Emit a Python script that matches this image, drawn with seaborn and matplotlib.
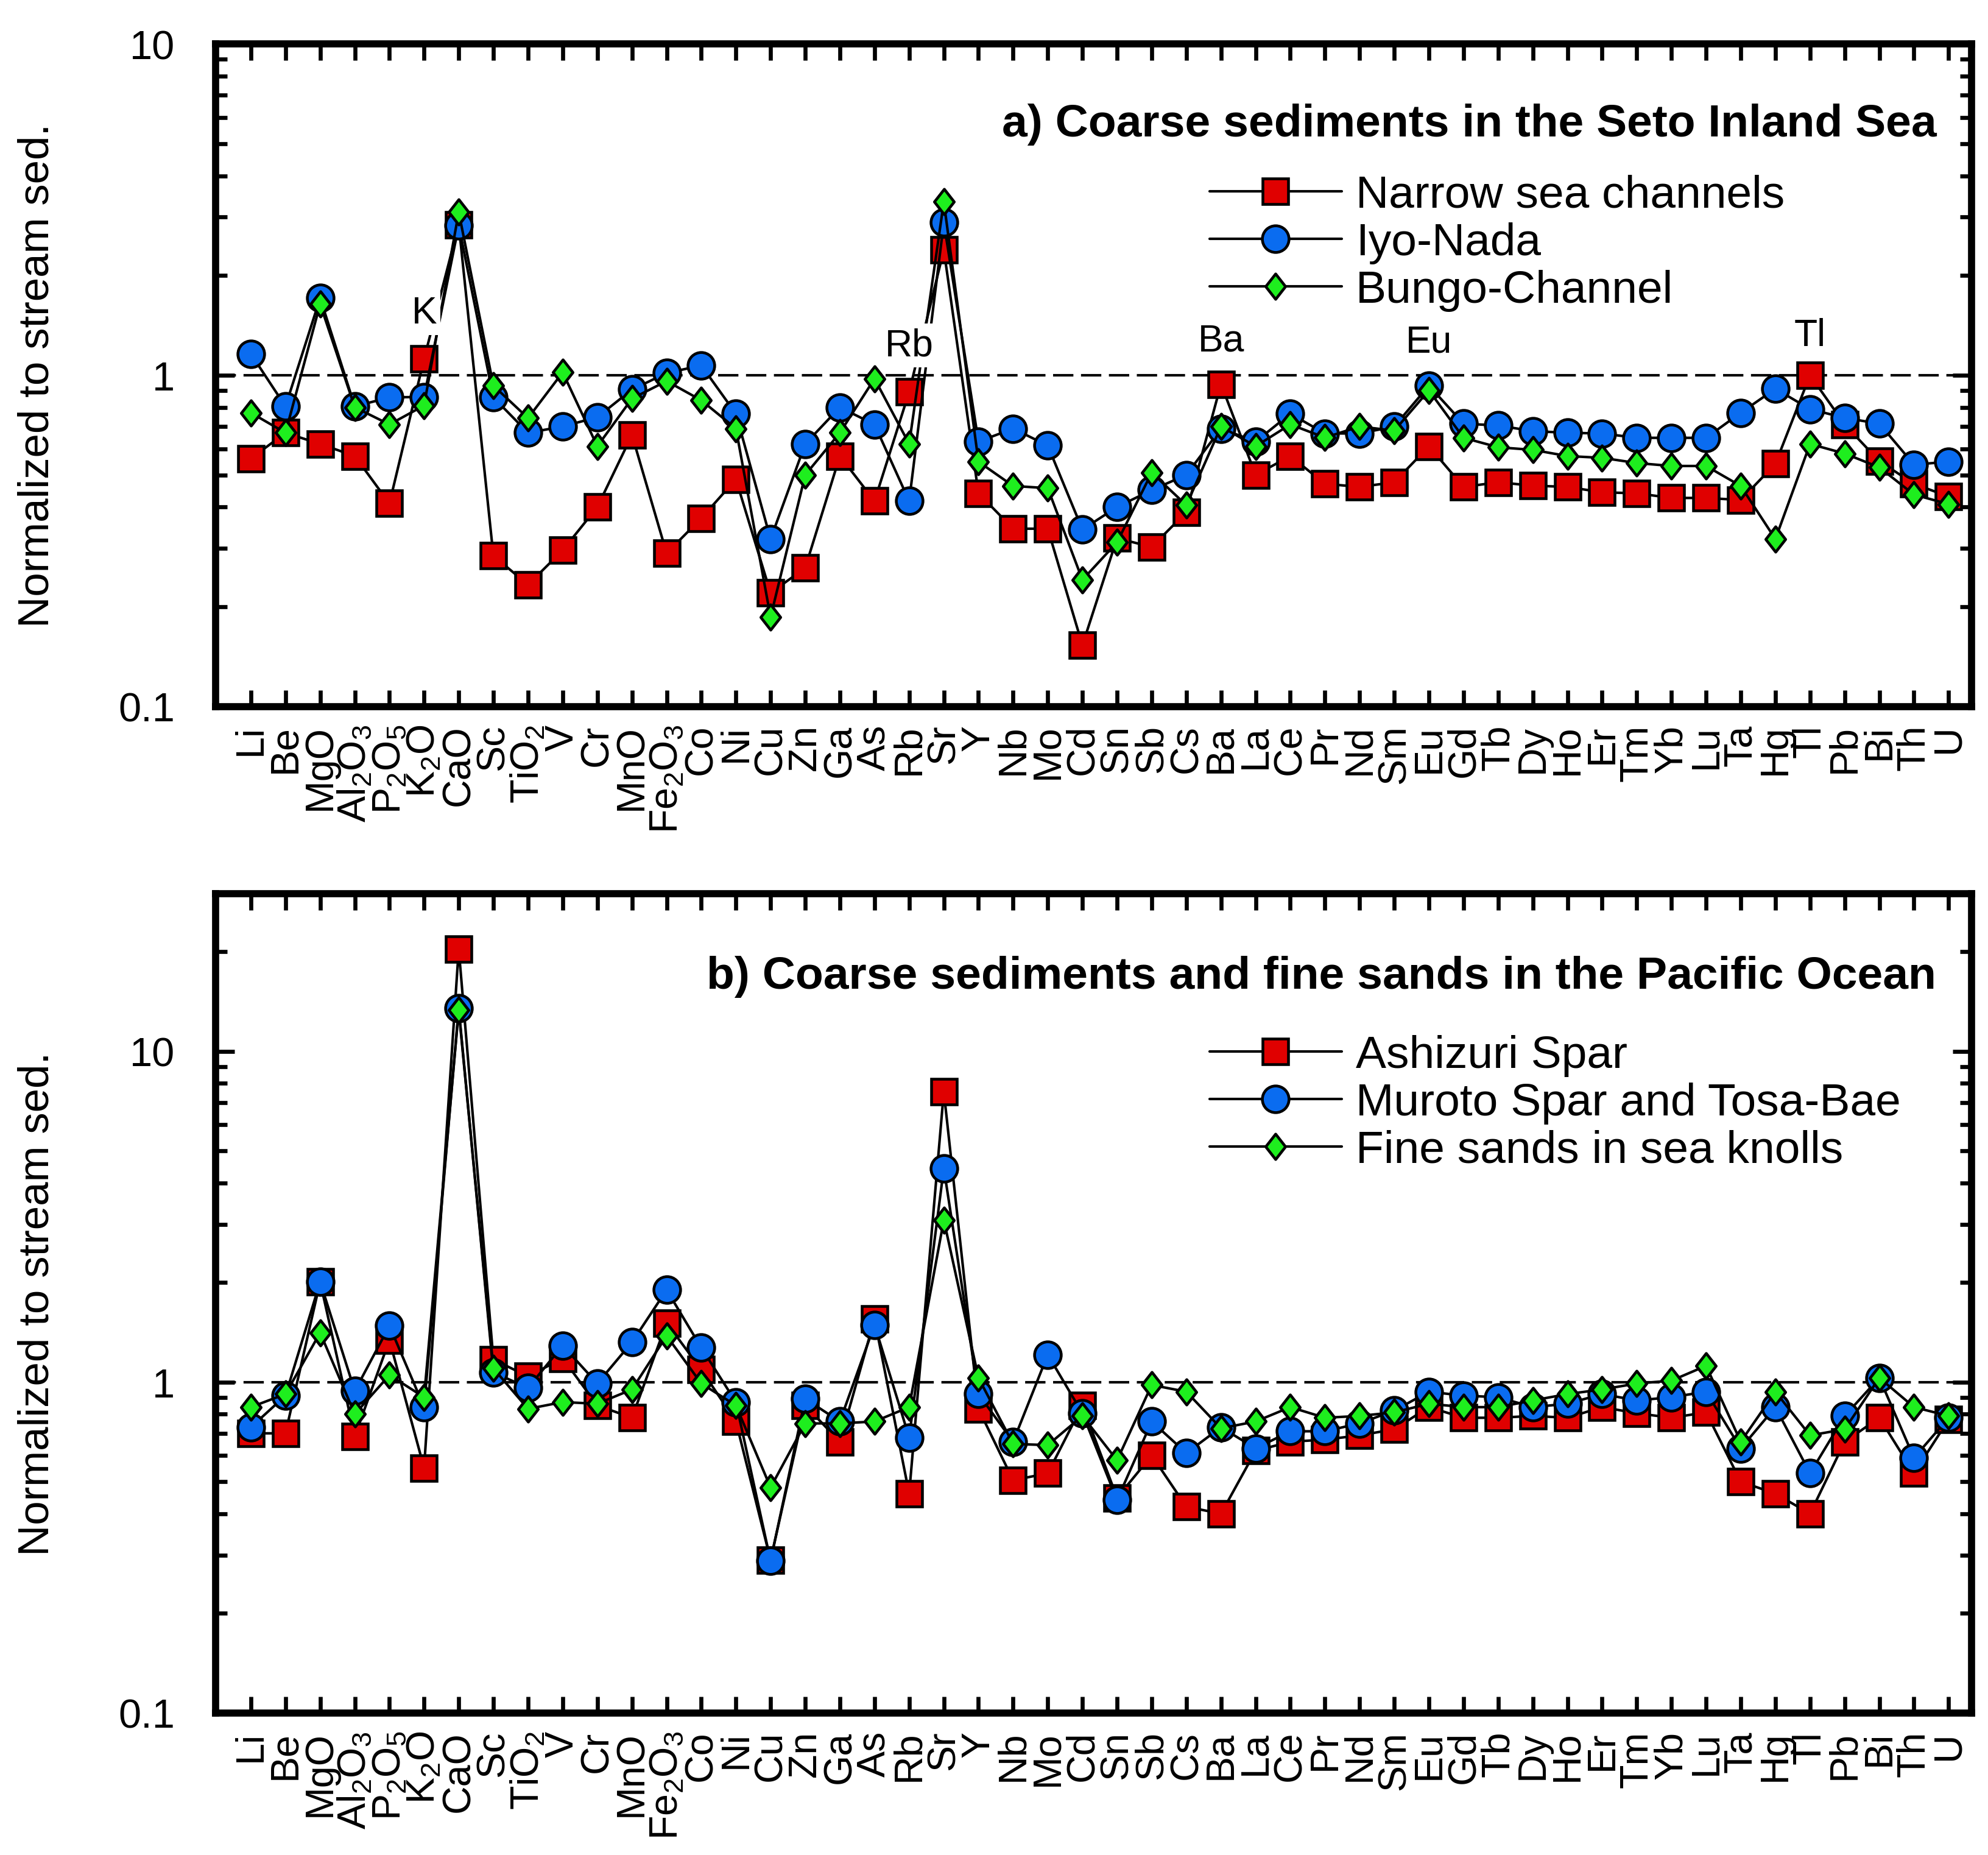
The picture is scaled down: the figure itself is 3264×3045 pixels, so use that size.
import numpy as np
import matplotlib
matplotlib.use("Agg")
import matplotlib.pyplot as plt
import seaborn as sns
from matplotlib.ticker import FixedLocator, FixedFormatter, NullFormatter
from matplotlib.path import Path

sns.set_style("ticks")
plt.rcParams["font.family"] = ["Liberation Sans", "DejaVu Sans"]
plt.rcParams["mathtext.default"] = "regular"
plt.rcParams["text.color"] = "black"
plt.rcParams["axes.labelcolor"] = "black"
plt.rcParams["axes.edgecolor"] = "black"
plt.rcParams["xtick.color"] = "black"
plt.rcParams["ytick.color"] = "black"

elements = ["Li", "Be", "MgO", r"Al$_2$O$_3$", r"P$_2$O$_5$", r"K$_2$O", "CaO", "Sc",
            r"TiO$_2$", "V", "Cr", "MnO", r"Fe$_2$O$_3$", "Co", "Ni", "Cu", "Zn", "Ga",
            "As", "Rb", "Sr", "Y", "Nb", "Mo", "Cd", "Sn", "Sb", "Cs", "Ba", "La", "Ce",
            "Pr", "Nd", "Sm", "Eu", "Gd", "Tb", "Dy", "Ho", "Er", "Tm", "Yb", "Lu", "Ta",
            "Hg", "Tl", "Pb", "Bi", "Th", "U"]

# a) Seto Inland Sea
narrow = [0.56, 0.67, 0.62, 0.57, 0.41, 1.12, 2.85, 0.285, 0.233, 0.296, 0.40, 0.66,
          0.29, 0.37, 0.485, 0.22, 0.262, 0.57, 0.417, 0.89, 2.39, 0.44, 0.344, 0.344,
          0.153, 0.322, 0.303, 0.386, 0.94, 0.50, 0.57, 0.47, 0.46, 0.475, 0.61, 0.46,
          0.475, 0.464, 0.46, 0.443, 0.44, 0.426, 0.426, 0.42, 0.54, 1.0, 0.71, 0.55,
          0.47, 0.43]
iyo = [1.16, 0.805, 1.71, 0.805, 0.857, 0.86, 2.83, 0.857, 0.67, 0.70, 0.747, 0.905,
       1.015, 1.07, 0.765, 0.32, 0.62, 0.80, 0.71, 0.417, 2.89, 0.63, 0.69, 0.613,
       0.342, 0.40, 0.45, 0.50, 0.69, 0.63, 0.765, 0.667, 0.667, 0.70, 0.93, 0.714,
       0.705, 0.678, 0.67, 0.667, 0.647, 0.647, 0.647, 0.77, 0.91, 0.79, 0.743, 0.714,
       0.537, 0.548]
bungo = [0.77, 0.67, 1.64, 0.80, 0.71, 0.81, 3.11, 0.93, 0.742, 1.02, 0.61, 0.85,
         0.96, 0.84, 0.69, 0.186, 0.50, 0.67, 0.976, 0.62, 3.34, 0.548, 0.463, 0.456,
         0.241, 0.313, 0.508, 0.405, 0.70, 0.61, 0.71, 0.648, 0.70, 0.68, 0.90, 0.647,
         0.606, 0.595, 0.57, 0.563, 0.543, 0.532, 0.532, 0.463, 0.32, 0.62, 0.58, 0.527,
         0.436, 0.408]

# b) Pacific Ocean
ashizuri = [0.70, 0.70, 2.01, 0.686, 1.34, 0.55, 20.4, 1.17, 1.04, 1.18, 0.85, 0.78,
            1.51, 1.09, 0.76, 0.29, 0.85, 0.66, 1.55, 0.46, 7.55, 0.83, 0.505, 0.53,
            0.85, 0.447, 0.60, 0.42, 0.40, 0.62, 0.66, 0.67, 0.69, 0.72, 0.84, 0.78,
            0.78, 0.79, 0.78, 0.84, 0.805, 0.78, 0.81, 0.50, 0.46, 0.40, 0.66, 0.78,
            0.53, 0.77]
muroto = [0.73, 0.91, 2.01, 0.94, 1.48, 0.84, 13.5, 1.07, 0.96, 1.29, 0.99, 1.32,
          1.90, 1.27, 0.87, 0.288, 0.89, 0.76, 1.49, 0.68, 4.43, 0.92, 0.66, 1.21,
          0.805, 0.44, 0.76, 0.61, 0.73, 0.63, 0.71, 0.71, 0.75, 0.82, 0.935, 0.91,
          0.90, 0.84, 0.86, 0.92, 0.88, 0.90, 0.935, 0.63, 0.84, 0.53, 0.79, 1.03,
          0.59, 0.78]
fine = [0.84, 0.92, 1.41, 0.80, 1.05, 0.90, 13.3, 1.10, 0.83, 0.87, 0.86, 0.95,
        1.38, 0.99, 0.85, 0.48, 0.75, 0.75, 0.76, 0.84, 3.09, 1.03, 0.65, 0.645,
        0.79, 0.58, 0.98, 0.935, 0.725, 0.76, 0.84, 0.78, 0.79, 0.81, 0.86, 0.84,
        0.84, 0.88, 0.92, 0.95, 0.99, 1.01, 1.12, 0.66, 0.935, 0.69, 0.72, 1.03,
        0.84, 0.79]

marks_a = [("K", 5, 1.54), ("Rb", 19, 1.23), ("Ba", 28, 1.27), ("Eu", 34, 1.26), ("Tl", 45, 1.32)]

RED, BLUE, GREEN = "#E00000", "#0A6CF0", "#1EEE1E"
diamond = Path([(0, 1), (0.78, 0), (0, -1), (-0.78, 0), (0, 1)],
               [Path.MOVETO, Path.LINETO, Path.LINETO, Path.LINETO, Path.CLOSEPOLY])

pos = np.arange(len(elements))

fig = plt.figure(figsize=(10.88, 10.153), dpi=300)
ax_a = fig.add_axes([0.1084, 0.619, 0.8833, 0.357])
ax_b = fig.add_axes([0.1084, 0.0766, 0.8833, 0.4416])


def draw(ax, y, label, marker, color, ms):
    sns.lineplot(x=pos, y=y, ax=ax, color="black", lw=1.0, marker=marker,
                 markersize=ms, markerfacecolor=color, markeredgecolor="black",
                 markeredgewidth=1.1, label=label, zorder=3)


def style_axis(ax, ymax, yticks):
    ax.set_yscale("log")
    ax.set_xlim(-1.02, 49.66)
    ax.set_ylim(0.1, ymax)
    ax.axhline(1, color="black", lw=1.0, ls=(0, (8, 3)), zorder=1)
    ax.xaxis.set_major_locator(FixedLocator(pos))
    ax.xaxis.set_major_formatter(FixedFormatter(elements))
    ax.yaxis.set_major_locator(FixedLocator(yticks))
    ax.yaxis.set_major_formatter(FixedFormatter([("%g" % t) for t in yticks]))
    minors = [m * 10.0 ** e for e in (-1, 0, 1) for m in range(2, 10)]
    ax.yaxis.set_minor_locator(FixedLocator([m for m in minors if m < ymax]))
    ax.yaxis.set_minor_formatter(NullFormatter())
    ax.tick_params(axis="x", which="major", direction="in", top=True, bottom=True,
                   length=6.5, width=1.6, labelsize=15.5, rotation=90, pad=7)
    ax.tick_params(axis="y", which="major", direction="in", left=True, right=True,
                   length=7.5, width=1.6, labelsize=16, pad=16)
    ax.tick_params(axis="y", which="minor", direction="in", left=True, right=True,
                   length=4.5, width=1.6)
    for s in ax.spines.values():
        s.set_linewidth(2.8)
        s.set_visible(True)
    ax.set_xlabel("")
    ax.set_ylabel("Normalized to stream sed.", fontsize=17, labelpad=24)


draw(ax_a, narrow, "Narrow sea channels", "s", RED, 10)
draw(ax_a, iyo, "Iyo-Nada", "o", BLUE, 10.5)
draw(ax_a, bungo, "Bungo-Channel", diamond, GREEN, 10)
style_axis(ax_a, 10, [0.1, 1, 10])
for txt, xi, yv in marks_a:
    ax_a.text(xi, yv, txt, fontsize=15, ha="center", va="center", zorder=4,
              bbox=dict(facecolor="white", edgecolor="none", pad=1.5))
ax_a.text(0.98, 0.879, "a) Coarse sediments in the Seto Inland Sea", transform=ax_a.transAxes,
          ha="right", va="center", fontsize=18, fontweight="bold")
ax_a.legend(loc="upper left", bbox_to_anchor=(0.553, 0.838), frameon=False, fontsize=18,
            handlelength=2.9, handletextpad=0.3, labelspacing=0.12, borderpad=0)

draw(ax_b, ashizuri, "Ashizuri Spar", "s", RED, 10)
draw(ax_b, muroto, "Muroto Spar and Tosa-Bae", "o", BLUE, 10.5)
draw(ax_b, fine, "Fine sands in sea knolls", diamond, GREEN, 10)
style_axis(ax_b, 30, [0.1, 1, 10])
ax_b.text(0.98, 0.899, "b) Coarse sediments and fine sands in the Pacific Ocean",
          transform=ax_b.transAxes, ha="right", va="center", fontsize=18, fontweight="bold")
ax_b.legend(loc="upper left", bbox_to_anchor=(0.553, 0.856), frameon=False, fontsize=18,
            handlelength=2.9, handletextpad=0.3, labelspacing=0.12, borderpad=0)

fig.savefig("out.png", dpi=300)
plt.close(fig)
